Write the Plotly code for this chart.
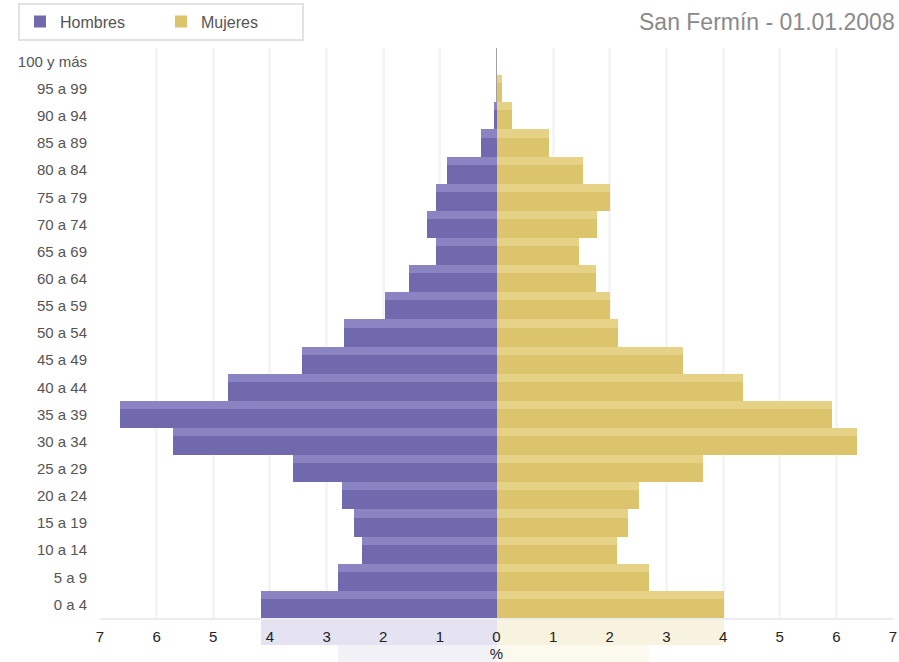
import plotly.graph_objects as go

age_groups = ["0 a 4", "5 a 9", "10 a 14", "15 a 19", "20 a 24", "25 a 29", "30 a 34",
              "35 a 39", "40 a 44", "45 a 49", "50 a 54", "55 a 59", "60 a 64", "65 a 69",
              "70 a 74", "75 a 79", "80 a 84", "85 a 89", "90 a 94", "95 a 99", "100 y más"]
hombres = [4.15, 2.79, 2.37, 2.51, 2.72, 3.60, 5.71, 6.64, 4.74, 3.43, 2.69, 1.96, 1.55, 1.06,
           1.22, 1.06, 0.88, 0.28, 0.05, 0.0, 0.0]
mujeres = [4.01, 2.70, 2.12, 2.33, 2.51, 3.64, 6.36, 5.92, 4.35, 3.30, 2.14, 2.00, 1.75, 1.45,
           1.78, 2.00, 1.52, 0.92, 0.28, 0.10, 0.0]
tick_vals = [-7, -6, -5, -4, -3, -2, -1, 0, 1, 2, 3, 4, 5, 6, 7]
tick_text = ["7", "6", "5", "4", "3", "2", "1", "0", "1", "2", "3", "4", "5", "6", "7"]

men_face, men_top = "#7169ad", "#8a84c2"
wom_face, wom_top = "#dcc46c", "#e6d287"

neg_h = [-v for v in hombres]

fig = go.Figure()

# faint mirrored reflection under the axis (drawn first, lower subplot)
n = len(age_groups)
men_refl = ["#e5e3f1", "#f2f1f8"] + ["#ffffff"] * (n - 2)
wom_refl = ["#f8f3de", "#fcfaef"] + ["#ffffff"] * (n - 2)
fig.add_trace(go.Bar(y=age_groups, x=neg_h, orientation="h", showlegend=False,
                     marker=dict(color=men_refl, line=dict(width=0)),
                     width=1.0, offset=-0.5, hoverinfo="skip", xaxis="x", yaxis="y"))
fig.add_trace(go.Bar(y=age_groups, x=mujeres, orientation="h", showlegend=False,
                     marker=dict(color=wom_refl, line=dict(width=0)),
                     width=1.0, offset=-0.5, hoverinfo="skip", xaxis="x", yaxis="y"))

# main faces
fig.add_trace(go.Bar(y=age_groups, x=neg_h, orientation="h", name="Hombres",
                     marker=dict(color=men_face, line=dict(width=0)),
                     width=0.7, offset=-0.5, xaxis="x2", yaxis="y2"))
fig.add_trace(go.Bar(y=age_groups, x=mujeres, orientation="h", name="Mujeres",
                     marker=dict(color=wom_face, line=dict(width=0)),
                     width=0.7, offset=-0.5, xaxis="x2", yaxis="y2"))
# bevel tops
fig.add_trace(go.Bar(y=age_groups, x=neg_h, orientation="h", showlegend=False,
                     marker=dict(color=men_top, line=dict(width=0)),
                     width=0.3, offset=0.2, hoverinfo="skip", xaxis="x2", yaxis="y2"))
fig.add_trace(go.Bar(y=age_groups, x=mujeres, orientation="h", showlegend=False,
                     marker=dict(color=wom_top, line=dict(width=0)),
                     width=0.3, offset=0.2, hoverinfo="skip", xaxis="x2", yaxis="y2"))

main_bottom = 44 / 614

fig.update_layout(
    width=899, height=662,
    barmode="overlay",
    bargap=0,
    plot_bgcolor="rgba(0,0,0,0)",
    paper_bgcolor="white",
    margin=dict(l=100, r=6, t=48, b=0, autoexpand=False),
    font=dict(family="Liberation Sans, Arial, sans-serif", color="#555555", size=14),
    showlegend=True,
    legend=dict(orientation="h", x=0.02, xref="container", y=0.996, yref="container",
                xanchor="left", yanchor="top",
                bordercolor="#e2e2e2", borderwidth=2, bgcolor="white",
                font=dict(size=16, color="#555555"), entrywidth=96,
                traceorder="normal"),
    annotations=[dict(text="San Fermín - 01.01.2008", xref="paper", yref="paper",
                      x=1.0055, y=(662 - 22) / 614, xanchor="right",
                      yanchor="middle", showarrow=False,
                      font=dict(size=23, color="#8a8a8a"))],
    xaxis=dict(range=[-7, 7], showgrid=False, zeroline=False, showticklabels=False,
               ticks="", showline=False, fixedrange=True, anchor="y"),
    yaxis=dict(domain=[0, main_bottom], categoryorder="array", categoryarray=age_groups,
               range=[1.13, -0.5], showgrid=False, zeroline=False, showticklabels=False,
               ticks="", fixedrange=True, anchor="x"),
    xaxis2=dict(range=[-7, 7], tickvals=tick_vals, ticktext=tick_text,
                showgrid=True, gridcolor="#f5f5f7", gridwidth=3,
                zeroline=True, zerolinecolor="#a0a0a0", zerolinewidth=1,
                tickfont=dict(size=15, color="#222222"),
                ticks="", ticklabelstandoff=4, automargin=False,
                showline=True, linecolor="#ececec", linewidth=2,
                title=dict(text="%", font=dict(size=15, color="#222222"), standoff=2),
                fixedrange=True, anchor="y2"),
    yaxis2=dict(domain=[main_bottom, 1], categoryorder="array", categoryarray=age_groups,
                range=[-0.5, 20.5], showgrid=False, zeroline=False,
                tickfont=dict(size=15, color="#555555"), ticks="",
                ticklabelstandoff=12, automargin=False, fixedrange=True, anchor="x2"),
)

fig.write_html("out.html", config={"displayModeBar": False},
               post_script="document.body.style.margin='0';")
